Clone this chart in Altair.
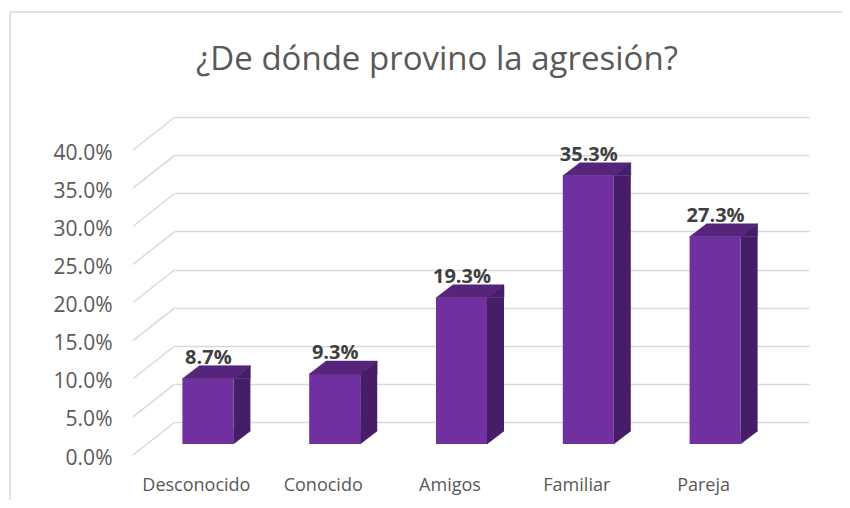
import altair as alt
import pandas as pd

# ---- data ----
categories = ["Desconocido", "Conocido", "Amigos", "Familiar", "Pareja"]
values = [0.087, 0.093, 0.193, 0.353, 0.273]
tick_values = [0.0, 0.05, 0.10, 0.15, 0.20, 0.25, 0.30, 0.35, 0.40]
title_text = "¿De dónde provino la agresión?"

df = pd.DataFrame({"cat": categories, "val": values, "zero": [0.0] * len(values)})
ticks_df = pd.DataFrame({"tick": tick_values})

# ---- styles ----
FONT = "Open Sans"
FRONT = "#7030a0"
TOP = "#56257b"
SIDE = "#461e67"
GRID = "#d9d9d9"
TEXT = "#595959"

W, H = 634, 305
yscale = alt.Scale(domain=[0, 0.4], nice=False, zero=True)
xscale = alt.Scale(domain=categories, paddingInner=0, paddingOuter=0)

xaxis = alt.Axis(
    title=None, labelAngle=0, ticks=False, tickSize=0, domain=False,
    labelPadding=54, labelOffset=-42, labelFont=FONT, labelFontSize=18,
    labelColor=TEXT, grid=False,
)
yaxis = alt.Axis(
    title=None, values=tick_values, format=".1%", ticks=False, tickSize=0,
    domain=False, labelPadding=63, labelOffset=36, labelFont=FONT,
    labelFontSize=21, labelColor=TEXT, grid=True, gridColor=GRID,
    gridWidth=1.5,
)

X = alt.X("cat:N", sort=categories, scale=xscale, axis=xaxis)


def Yq(field):
    return alt.Y(field, scale=yscale, axis=yaxis, stack=None)


# outer chart frame
frame = alt.Chart(alt.Data(values=[{"k": 1}])).mark_rect(
    fillOpacity=0, stroke=GRID, strokeWidth=1.5
).encode(
    x=alt.value(-165), x2=alt.value(W + 300),
    y=alt.value(-105), y2=alt.value(H + 300),
)

# perspective lines on the left wall / floor
diag = alt.Chart(ticks_df).mark_point(
    shape="M0,0L-42,33", size=4, filled=False, stroke=GRID, strokeWidth=1.5, opacity=1
).encode(
    x=alt.value(0),
    y=Yq("tick:Q"),
)

base = alt.Chart(df)

side_rect = base.mark_bar(
    width=17, xOffset=3.5, yOffset=23, y2Offset=9, color=SIDE
).encode(x=X, y=Yq("val:Q"), y2=alt.Y2("zero:Q"))

side_bottom = base.mark_point(
    shape="M-5,9L12,9L-5,22Z", size=4, filled=True, color=SIDE,
    stroke=SIDE, strokeWidth=0.5, opacity=1
).encode(x=X, y=Yq("zero:Q"))

front = base.mark_bar(
    width=51, xOffset=-30.5, yOffset=23, y2Offset=22, color=FRONT
).encode(x=X, y=Yq("val:Q"), y2=alt.Y2("zero:Q"))

top_face = base.mark_point(
    shape="M-56,23L-5,23L12,10L-39,10Z", size=4, filled=True, color=TOP,
    stroke=TOP, strokeWidth=0.5, opacity=1
).encode(x=X, y=Yq("val:Q"))

side_top = base.mark_point(
    shape="M-5,23L12,10L12,23Z", size=4, filled=True, color=SIDE,
    stroke=SIDE, strokeWidth=0.5, opacity=1
).encode(x=X, y=Yq("val:Q"))

labels = base.mark_text(
    font=FONT, fontSize=20, fontWeight="bold", color="#404040",
    align="center", baseline="middle", dx=-30, dy=2
).encode(x=X, y=Yq("val:Q"), text=alt.Text("val:Q", format=".1%"))

chart = alt.layer(
    frame, diag, side_rect, side_bottom, front, top_face, side_top, labels
).properties(
    width=W, height=H,
    background="white",
    title=alt.TitleParams(
        text=title_text, font=FONT, fontSize=33, fontWeight="normal",
        color=TEXT, anchor="middle", frame="group", dx=-55, offset=0,
        baseline="alphabetic", dy=92,
    ),
    autosize=alt.AutoSizeParams(type="none"),
    padding={"left": 167, "top": 109, "right": 33, "bottom": 78},
).configure_view(strokeWidth=0, stroke="transparent")

chart.save("out.html", embed_options={"renderer": "svg", "actions": False})
